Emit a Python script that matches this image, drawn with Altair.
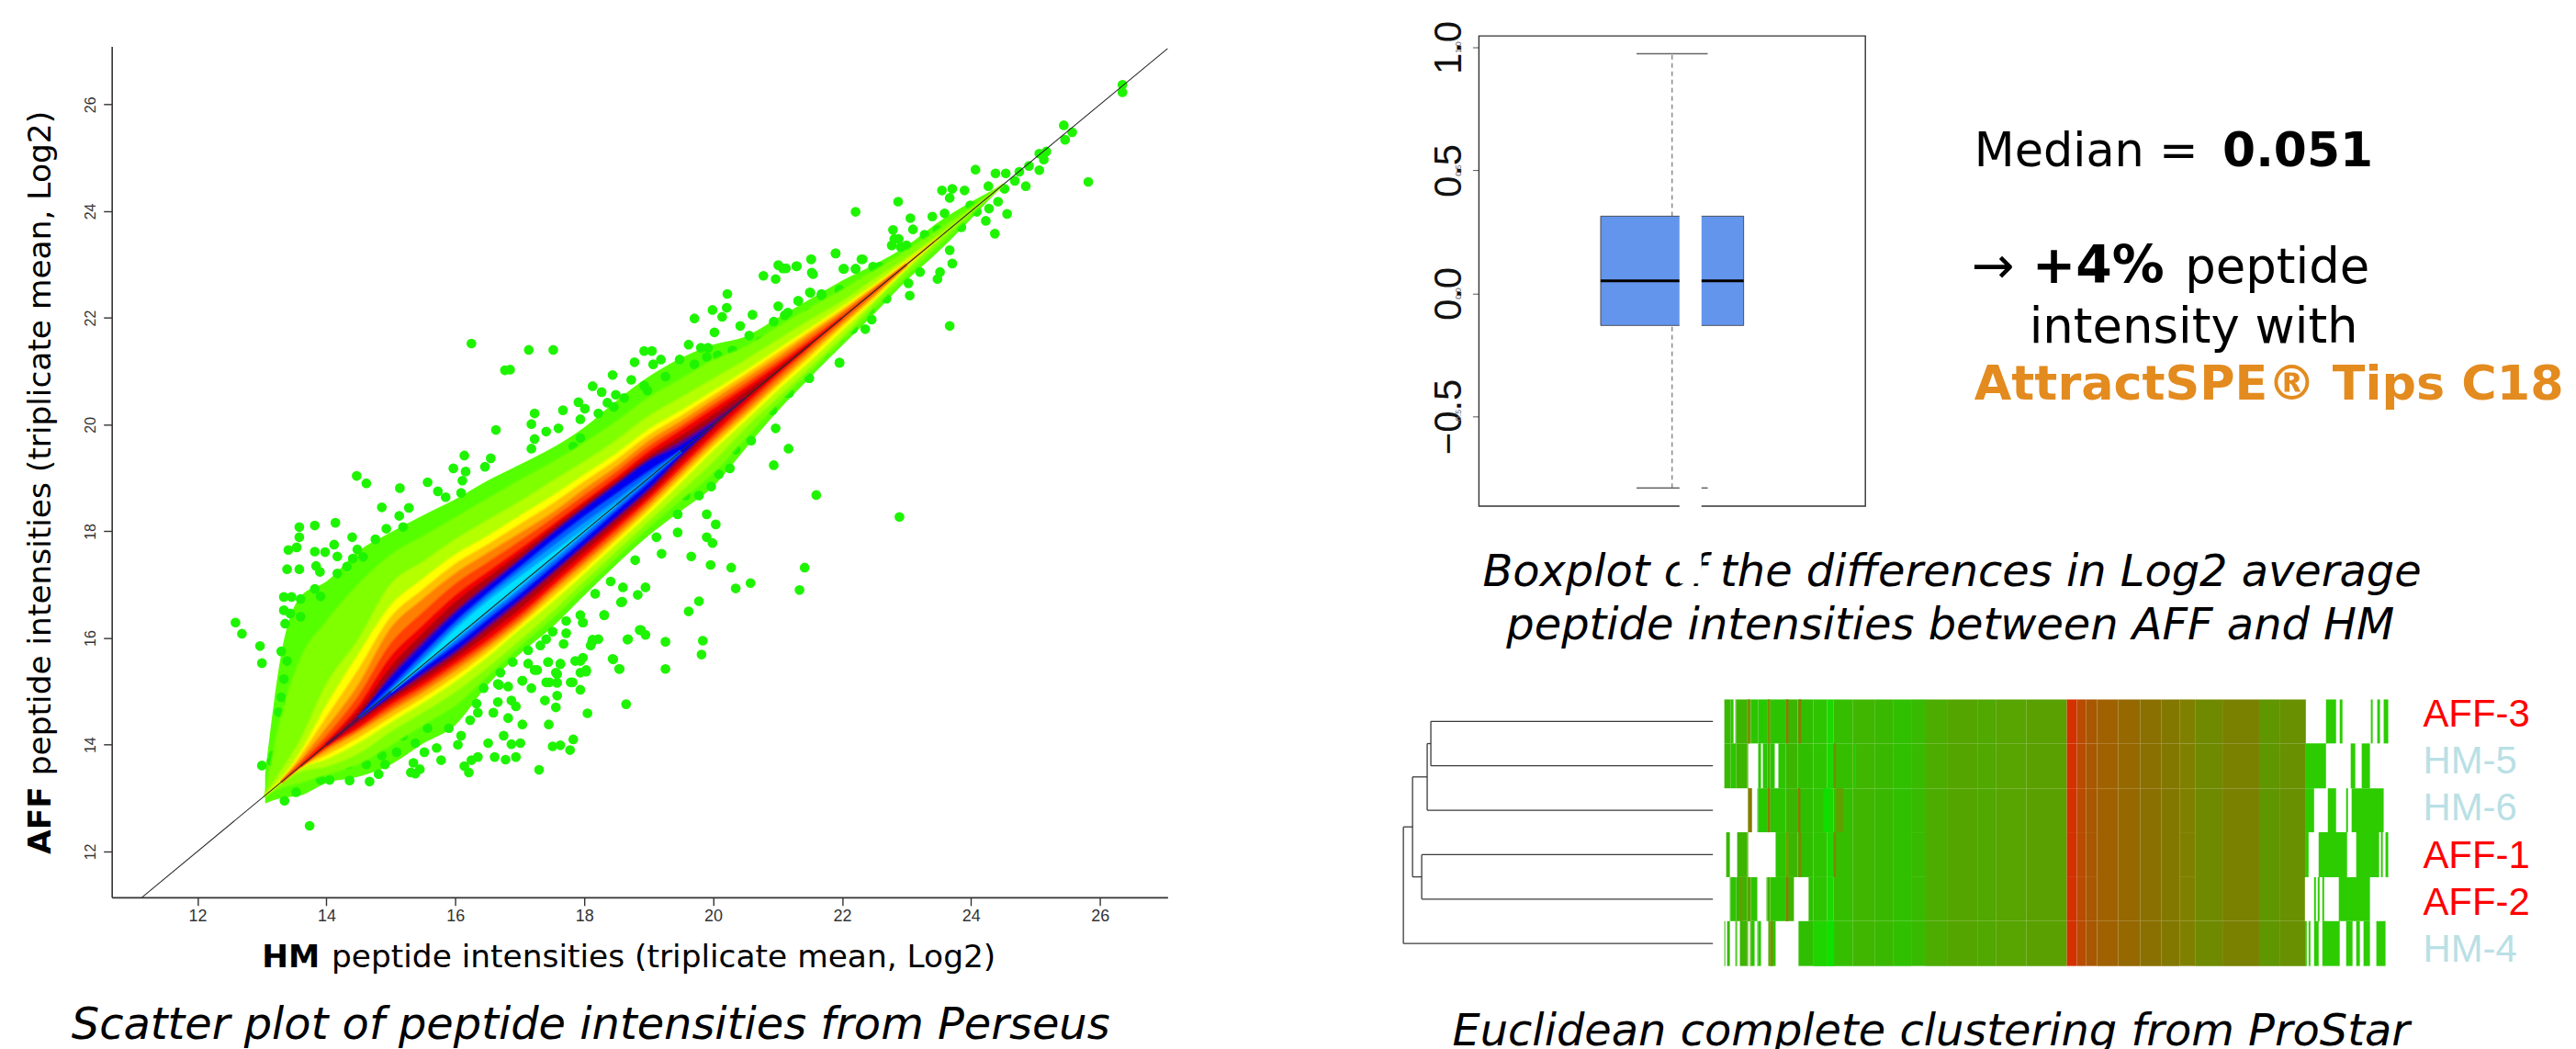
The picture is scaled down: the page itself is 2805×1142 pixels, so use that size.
import altair as alt
import pandas as pd

# ------------------------------ scatter values (Log2 intensities) ------------------------------
SCATTER_TICKS = [12, 14, 16, 18, 20, 22, 24, 26]
IDENTITY = [11.14, 27.05]

# Positions along HM at which the density contours were read
CONTOUR_HM = [13.05,13.3,13.6,14,14.5,15,15.5,16,16.5,17,17.5,18,18.5,19,19.5,20,20.5,21,21.5,22,22.5,23,23.5,24.5]
# Height of each density contour above the diagonal, outermost first
CONTOUR_UP = [
 [.4,2.4,3.18,3.06,3.13,2.98,2.8,2.6,2.45,2.25,2.06,1.95,1.95,1.9,1.75,1.5,1.15,1.0,.85,.7,.5,.35,.3,0],
 [0,1.2,2.0,2.3,2.5,2.55,2.4,2.25,2.1,1.95,1.78,1.65,1.55,1.5,1.35,1.2,.95,.82,.68,.52,.38,.25,.15,0],
 [0,.2,.49,1.12,1.47,2.0,1.92,1.84,1.7,1.55,1.43,1.3,1.2,1.15,1.0,.85,.7,.58,.45,.3,.22,.12,.05,0],
 [0,.05,.26,.72,1.19,1.6,1.6,1.55,1.4,1.28,1.15,1.05,.95,.9,.75,.62,.5,.4,.3,.2,.12,.06,0,0],
 [0,0,.18,.5,.9,1.38,1.4,1.38,1.24,1.12,1.0,.92,.83,.79,.65,.54,.43,.33,.24,.15,.08,.03,0,0],
 [0,0,.1,.3,.61,1.17,1.22,1.2,1.08,.95,.83,.78,.7,.68,.55,.45,.35,.25,.18,.1,.05,0,0,0],
 [0,0,.05,.15,.4,.88,.97,1.0,.9,.8,.72,.66,.6,.58,.46,.36,.26,.17,.1,.05,.02,0,0,0],
 [0,0,0,.05,.21,.63,.72,.78,.72,.65,.6,.55,.5,.48,.38,.28,.18,.1,.04,0,0,0,0,0],
 [0,0,0,0,.12,.45,.58,.66,.62,.57,.54,.5,.44,.4,.28,.18,.1,.03,0,0,0,0,0,0],
 [0,0,0,0,.03,.3,.43,.5,.5,.47,.47,.44,.39,.34,.18,.07,0,0,0,0,0,0,0,0],
 [0,0,0,0,0,.23,.35,.44,.44,.43,.43,.4,.35,.3,.1,0,0,0,0,0,0,0,0,0],
 [0,0,0,0,0,.08,.2,.3,.33,.32,.31,.27,.2,.12,0,0,0,0,0,0,0,0,0,0],
 [0,0,0,0,0,0,.12,.22,.26,.24,.2,.15,.08,.03,0,0,0,0,0,0,0,0,0,0],
 [0,0,0,0,0,0,.05,.15,.18,.14,.08,.03,0,0,0,0,0,0,0,0,0,0,0,0],
]
# Depth of each density contour below the diagonal
CONTOUR_DOWN = [
 [.15,.3,.55,.72,1.1,1.37,1.48,1.63,1.38,1.3,1.3,1.2,1.12,1.08,1.12,1.16,.95,.75,.62,.52,.42,.3,.25,0],
 [0,.1,.3,.55,.85,1.0,1.12,1.25,1.2,1.15,1.13,1.05,.98,.92,.9,.9,.74,.6,.5,.42,.3,.2,.12,0],
 [0,0,.1,.4,.65,.74,.88,1.0,1.04,1.03,1.0,.92,.86,.8,.74,.68,.55,.48,.42,.34,.2,.1,.03,0],
 [0,0,.03,.26,.45,.57,.7,.8,.84,.82,.82,.78,.72,.66,.57,.47,.41,.34,.3,.22,.15,.05,0,0],
 [0,0,.02,.18,.35,.47,.6,.7,.75,.75,.72,.69,.64,.58,.48,.39,.33,.26,.21,.15,.1,.02,0,0],
 [0,0,0,.1,.25,.37,.5,.6,.66,.68,.63,.6,.56,.5,.4,.31,.26,.19,.13,.09,.06,0,0,0],
 [0,0,0,.05,.2,.3,.43,.52,.59,.61,.56,.53,.49,.43,.33,.24,.18,.11,.06,.03,.01,0,0,0],
 [0,0,0,.02,.16,.23,.36,.45,.52,.54,.5,.46,.42,.37,.27,.17,.1,.04,0,0,0,0,0,0],
 [0,0,0,0,.08,.16,.28,.37,.42,.44,.41,.37,.34,.3,.18,.08,.02,0,0,0,0,0,0,0],
 [0,0,0,0,.02,.1,.19,.28,.3,.31,.29,.27,.25,.22,.1,.02,0,0,0,0,0,0,0,0],
 [0,0,0,0,0,.06,.13,.22,.23,.25,.24,.22,.2,.17,.06,0,0,0,0,0,0,0,0,0],
 [0,0,0,0,0,.01,.06,.12,.14,.16,.15,.13,.1,.07,0,0,0,0,0,0,0,0,0,0],
 [0,0,0,0,0,0,.02,.05,.06,.08,.07,.05,.03,.01,0,0,0,0,0,0,0,0,0,0],
 [0,0,0,0,0,0,0,0,.01,.02,0,0,0,0,0,0,0,0,0,0,0,0,0,0],
]
CONTOUR_COLORS = ["#56ff00","#80ff00","#b4ff00","#ffff00","#ffc000","#ff8000","#ff4000",
                  "#f00000","#b00010","#600090","#0000f0","#0060ff","#00a0ff","#00e0ff"]

OUTLIERS_LOW = [
 (14.47,19.04),(14.62,18.90),(15.14,18.81),(15.57,18.92),(15.97,19.18),(16.16,19.12),(16.11,18.95),(15.73,18.75),
 (15.85,18.64),(16.09,18.72),(14.86,18.45),(15.28,18.44),(15.13,18.29),(14.93,18.05),(15.19,18.08),(13.58,18.08),
 (13.82,18.11),(14.14,18.16),(14.40,17.89),(14.76,17.85),(13.58,17.89),(13.41,17.65),(13.54,17.70),(14.12,17.75),
 (13.82,17.62),(13.98,17.61),(14.17,17.53),(14.48,17.66),(14.57,17.52),(14.41,17.49),(13.39,17.29),(13.58,17.29),
 (13.84,17.35),(13.90,17.24),(14.17,17.21),(14.32,17.34),(13.34,16.77),(13.46,16.77),(13.60,16.73),(13.82,16.92),
 (13.91,16.78),(13.34,16.52),(13.44,16.46),(13.60,16.40),(12.59,16.29),(12.69,16.08),(13.36,16.27),(12.97,15.85),
 (13.30,15.75),(13.00,15.53),(13.39,15.57),(13.34,15.23),(13.30,14.89),(13.26,14.61),(13.39,14.49),(13.41,14.77),
 (13.30,13.97),(13.18,13.80),(13.00,13.61),(13.15,13.69),(13.37,13.77),(13.37,13.48),(13.15,13.24),(13.35,12.95),
 (13.53,13.11),(13.74,12.48),(13.91,13.34),(14.05,13.34),(14.36,13.33),(14.67,13.31),(14.81,13.45),(14.91,13.63),
 (14.62,13.63),(14.34,13.63),(14.86,13.80),(15.09,13.86),(15.38,13.46),(15.31,13.48),(15.45,13.54),(15.35,13.66),
 (15.78,13.71),(16.14,13.60),(16.21,13.48),(16.25,13.71),(16.35,13.77),(16.61,13.77),(16.78,13.72),(16.94,13.77),
 (17.30,13.53),(16.51,14.03),(16.75,14.17),(16.87,14.01),(17.01,14.03),(17.51,13.97),(17.63,13.99),(17.78,13.90),
 (17.83,14.10),(17.45,14.38),(17.04,14.38),(16.82,14.50),(16.23,14.46),(16.04,14.00),(16.09,14.17),(15.52,13.86),
 (15.71,13.94),(15.90,14.31),(15.57,14.31),(15.38,14.03),(15.19,14.17),(16.59,14.60),(16.94,14.72),(16.66,14.80),
 (16.35,14.60),(16.33,14.77),(16.87,14.83),(16.44,15.06),(16.68,15.12),(16.82,15.09),(17.04,15.20),(17.18,15.06),
 (17.41,15.17),(17.58,15.16),(17.39,14.83),(17.58,14.92),(17.56,14.70),(17.82,15.17),(17.94,15.03),(18.05,14.59),
 (18.65,14.76),(16.70,15.35),(16.89,15.55),(17.13,15.52),(17.27,15.40),(17.44,15.55),(17.63,15.51),(17.58,15.32),
 (17.86,15.57),(17.98,15.63),(18.03,15.40),(17.94,15.35),(18.45,15.60),(18.55,15.42),(17.13,15.77),(17.32,15.86),
 (17.51,16.12),(17.72,16.09),(17.41,15.98),(17.68,15.89),(18.12,15.92),(18.22,15.98),(17.94,16.43),(18.31,16.43),
 (17.98,16.29),(18.68,15.98),(18.59,16.68),(18.86,16.15),(18.60,16.95),(18.79,17.46),(18.41,17.06),(18.17,16.83),
]
OUTLIERS_MID = [
 (16.25,21.52),(17.14,21.40),(17.52,21.40),(16.77,21.02),(16.85,21.03),(16.63,19.90),(17.23,20.21),(17.18,20.01),
 (16.14,19.42),(16.55,19.37),(16.46,19.21),(17.67,20.27),(17.91,20.42),(18.13,20.72),(18.27,20.61),(18.49,20.56),
 (18.36,20.41),(18.46,20.33),(18.62,20.50),(18.01,20.30),(18.22,20.21),(17.94,20.10),(17.41,19.87),(17.60,19.93),
 (17.23,19.73),(17.94,19.75),(17.83,19.59),(17.18,19.55),(18.44,20.93),(18.78,21.17),(18.73,20.84),(18.93,20.73),
 (18.98,20.64),(19.07,21.13),(19.26,20.90),(18.93,21.38),(19.05,21.38),(19.19,21.22),(19.48,21.22),(19.62,21.50),
 (19.81,21.44),(19.92,21.44),(19.71,21.13),(19.90,21.27),(20.07,21.30),(20.30,21.39),(20.42,21.85),(20.02,21.73),
 (19.71,21.99),(19.99,22.15),(20.21,22.19),(20.14,22.02),(20.22,22.45),(20.61,22.06),(20.78,22.79),(20.97,22.73),
 (21.01,22.99),(21.13,22.93),(21.29,22.97),(21.52,23.10),(21.90,23.21),(21.53,22.85),(22.03,22.92),(22.21,22.92),
 (22.32,23.10),(21.51,22.47),(21.32,22.32),(21.01,22.22),(20.94,21.93),(20.56,21.67),(20.73,21.56),(20.97,21.64),
 (21.16,22.10),(21.68,22.42),(21.96,22.50),(22.81,23.48),(22.91,23.33),(21.17,19.55),(20.94,19.24),(21.60,18.68),
 (22.89,18.27),(21.42,17.32),(21.34,16.90),(20.58,17.03),(20.35,16.93),(20.28,17.32),(19.96,17.37),(19.66,17.53),
 (19.20,17.58),(19.78,16.69),(19.62,16.50),(18.88,16.15),(18.95,16.06),(18.67,15.97),(19.26,15.93),(19.84,15.95),
 (19.82,15.69),(19.26,15.42),(18.44,15.61),(18.54,15.42),(18.13,15.97),(18.10,15.86),(19.90,17.89),(19.99,17.78),
 (20.04,18.13),(19.90,18.32),(19.45,17.98),(19.12,17.89),(18.83,16.81),(18.95,16.95),(18.57,16.67),(18.31,16.43),
 (17.72,16.32),(17.98,16.29),(17.44,15.55),(17.63,15.52),(17.94,15.57),(18.03,15.37),(17.56,15.35),(17.23,15.40),
 (17.46,15.17),(17.79,15.17),(17.04,15.20),(16.66,15.14),(21.96,21.16),(21.49,20.87),(21.70,21.33),(21.18,20.59),
 (20.92,20.27),(20.97,19.93),(20.59,19.70),(20.35,19.53),(20.14,19.58),(20.26,19.18),(20.09,19.07),(19.97,18.84),
 (19.78,18.67),(19.57,18.67),(19.45,18.32),(18.98,18.32),
]
OUTLIERS_HIGH = [
 (26.35,26.37),(26.35,26.23),(25.44,25.61),(25.57,25.48),(25.46,25.34),(25.17,25.12),(25.06,25.08),(25.13,24.97),
 (24.07,24.78),(25.82,24.55),(25.06,24.77),(24.90,24.85),(24.75,24.74),(24.54,24.71),(24.38,24.71),(24.27,24.47),
 (23.90,24.39),(23.71,24.42),(23.55,24.39),(23.67,24.25),(24.85,24.47),(24.68,24.57),(24.52,24.42),(22.87,24.18),
 (22.21,23.99),(24.56,23.95),(24.42,24.18),(24.23,23.82),(24.37,23.58),(23.59,23.96),(23.40,23.90),(23.06,23.87),
 (22.79,23.65),(23.10,23.66),(22.88,23.48),(22.77,23.36),(23.00,23.36),(23.28,23.56),(23.67,23.27),(23.71,23.02),
 (23.52,22.86),(23.48,22.73),(23.03,22.65),(23.05,22.42),(23.67,21.85),(23.21,22.86),(21.90,23.21),(21.52,23.10),
 (22.30,23.10),(21.30,22.97),(21.08,22.93),(21.55,22.82),(22.02,22.92),(22.21,22.92),(22.48,22.96),(21.50,22.48),
 (21.32,22.32),(21.96,22.53),(21.68,22.45),(21.96,21.16),(21.72,21.34),(22.46,21.97),(22.36,21.79),(22.17,21.79),
 (21.96,21.62),(22.69,22.36),(21.49,20.87),(21.25,20.81),(21.13,20.59),(22.43,22.16),(21.72,22.16),(21.49,22.10),
 (21.11,22.05),(23.99,24.11),(24.09,23.99),(24.28,24.05),(23.48,23.65),(23.85,23.70),(22.58,22.96),(22.81,22.85),
 (22.43,22.56),
]

# ------------------------------ boxplot values ------------------------------
BOX_TICKS = [-0.5, 0.0, 0.5, 1.0]
BOX_Q1, BOX_MEDIAN, BOX_Q3 = -0.13, 0.051, 0.314
WHISKER_LOW, WHISKER_HIGH = -0.79, 0.974

# ------------------------------ heatmap values ------------------------------
SAMPLES = ["AFF-3", "HM-5", "HM-6", "AFF-1", "AFF-2", "HM-4"]
SAMPLE_COLORS = ["#ff0000", "#b9e0e5", "#b9e0e5", "#ff0000", "#ff0000", "#b9e0e5"]
COLUMN_EDGES = [0,7,13,25,29,37,47,50,67,80,97,112,119,140,164,184,204,220,244,277,297,330,
                374,385,395,407,430,454,477,497,514,544,584,607,635,725]
COLUMN_COLORS = ["#38b800","#2cc400","#3cb400","#55a500","#2cc400","#28c800","#48ad00","#2cc400",
                 "#3cb500","#30be00","#2ec400","#1cd800","#35be00","#40b600","#3ab800","#30c000",
                 "#38ba00","#4cac00","#55a500","#50a800","#58a400","#5aa000","#d43000","#b84c00",
                 "#a85800","#a06200","#956800","#8a7000","#827800","#808000","#6f8a00","#7a8000",
                 "#609600","#689000","#2ccc00"]
ROW_CELLS = [
 [(0,10),(12,635),(657,668),(672,675),(706,707.5),(713,716),(720,725)],
 [(0,26),(37,40),(42,55),(59,657),(684,689),(696,705)],
 [(26,30),(36,644),(659,668),(679,681),(685,720)],
 [(2,6),(14,26),(56,638),(649,680),(690,715),(717,719),(722,725)],
 [(6,36),(46,76),(92,634),(644,646),(648,650),(653,655),(671,705)],
 [(0,1),(3,6),(12,14),(17,26),(28,33),(36,40),(48,56),(81,636),(638,640),(644,649),(653,672),
  (679,686),(690,694),(698,705),(712,722)],
]
ROW_STRIPES = [
 [(25,28,"#7a9000"),(47,50,"#7a8f00"),(67,70,"#8a7a00"),(81,84,"#8a7a00")],
 [(119,122,"#6f9000"),(142,144,"#25d000")],
 [(26,30,"#8a7a00"),(47,50,"#8a7a00"),(80,83,"#8a7a00"),(108,115,"#10dd00"),(122,130,"#60a000")],
 [(119,122,"#7a8a00"),(67,70,"#6fa000"),(81,84,"#7a8a00")],
 [(67,70,"#8a7a00"),(17,20,"#60a000"),(26,28,"#60a000")],
 [(112,120,"#0fe000"),(97,112,"#20d400"),(50,53,"#7a9000")],
]
# Dendrogram segments: merge height from, merge height to, row from, row to
DENDRO = [
 (0,30.8,.5,.5),(0,30.8,1.5,1.5),(0,31.2,2.5,2.5),(0,31.8,3.5,3.5),(0,31.8,4.5,4.5),(0,33.8,5.5,5.5),
 (30.8,30.8,.5,1.5),(30.8,31.2,1,1),(31.2,31.2,1,2.5),(31.2,32.8,1.75,1.75),
 (31.8,31.8,3.5,4.5),(31.8,32.8,4,4),(32.8,32.8,1.75,4),(32.8,33.8,2.875,2.875),(33.8,33.8,2.875,5.5),
]

# ------------------------------ scales ------------------------------
W, H = 2797, 1134
SX = alt.Scale(domain=[10.67, 27.05], range=[114, 1267], nice=False, zero=False)
SY = alt.Scale(domain=[11.14, 27.09], range=[970, 41], nice=False, zero=False)
BX = alt.Scale(domain=[0.5, 1.5], range=[1607, 2029], nice=False, zero=False)
BY = alt.Scale(domain=[-0.864, 1.046], range=[543, 29.6], nice=False, zero=False)
HX = alt.Scale(domain=[0, 725], range=[1875, 2600], nice=False, zero=False, round=True)
HY = alt.Scale(domain=[0, 6], range=[753.7, 1044.7], nice=False, zero=False, round=True)
DX = alt.Scale(domain=[0, 34], range=[1862.5, 1522.5], nice=False, zero=False)
DY = alt.Scale(domain=[0, 6], range=[753.7, 1044.7], nice=False, zero=False)
LY = alt.Scale(domain=[0, 5], range=[784, 1040], nice=False, zero=False)

layers = []

# ---- scatter ----
def contour_layer(i):
    n = len(CONTOUR_HM)
    width = [CONTOUR_UP[i][k] + CONTOUR_DOWN[i][k] for k in range(n)]
    keep = [k for k in range(n)
            if width[k] > 0 or (k > 0 and width[k - 1] > 0) or (k < n - 1 and width[k + 1] > 0)]
    df = pd.DataFrame({"hm": [CONTOUR_HM[k] for k in keep],
                       "top": [CONTOUR_HM[k] + CONTOUR_UP[i][k] for k in keep],
                       "bottom": [CONTOUR_HM[k] - CONTOUR_DOWN[i][k] for k in keep]})
    kw = {} if i == 0 else {"stroke": CONTOUR_COLORS[i], "strokeWidth": 3.5, "strokeOpacity": 0.45}
    return alt.Chart(df).mark_area(color=CONTOUR_COLORS[i], interpolate="monotone", clip=False, **kw).encode(
        x=alt.X("hm:Q", scale=SX, axis=None),
        y=alt.Y("top:Q", scale=SY, axis=None),
        y2="bottom:Q")

layers.append(contour_layer(0))
pts = pd.DataFrame(OUTLIERS_LOW + OUTLIERS_MID + OUTLIERS_HIGH, columns=["hm", "aff"])
layers.append(alt.Chart(pts).mark_circle(size=115, color="#1ff400", opacity=1).encode(
    x=alt.X("hm:Q", scale=SX, axis=None), y=alt.Y("aff:Q", scale=SY, axis=None)))
layers += [contour_layer(i) for i in range(1, len(CONTOUR_COLORS))]

line_df = pd.DataFrame({"hm": IDENTITY, "aff": IDENTITY})
layers.append(alt.Chart(line_df).mark_line(color="#2a2a2a", strokeWidth=1.1).encode(
    x=alt.X("hm:Q", scale=SX,
            axis=alt.Axis(orient="bottom", offset=-(H - 970), values=SCATTER_TICKS, grid=False, title=None,
                          labelFont="Liberation Sans", labelFontSize=18, labelColor="#333333", labelPadding=3,
                          tickSize=9, tickColor="#333333", tickWidth=1.4, domainColor="#333333", domainWidth=1.6,
                          labelFlush=False, labelOverlap=False)),
    y=alt.Y("aff:Q", scale=SY,
            axis=alt.Axis(orient="left", offset=-114, values=SCATTER_TICKS, grid=False, title=None,
                          labelFont="Liberation Sans", labelFontSize=16, labelColor="#333333", labelPadding=14,
                          labelAngle=270, labelAlign="center", labelBaseline="middle",
                          tickSize=9, tickColor="#333333", tickWidth=1.4, domainColor="#333333", domainWidth=1.6,
                          labelFlush=False, labelOverlap=False))))

# ---- text helper (page coordinates minus the 8px margin) ----
def label(text, x, y, size, color="#000000", weight="normal", style="normal", font="DejaVu Sans",
          angle=None, align="left"):
    kw = dict(text=text, fontSize=size, color=color, fontWeight=weight, fontStyle=style, font=font,
              align=align, baseline="alphabetic")
    if angle is not None:
        kw["angle"] = angle
    return alt.Chart(pd.DataFrame({"a": [0]})).mark_text(**kw).encode(x=alt.value(x - 8), y=alt.value(y - 8))

layers += [
    label("HM", 286, 1054, 34.5, weight="bold"),
    label("peptide intensities (triplicate mean, Log2)", 362, 1054, 34.5),
    label("AFF", 55, 931, 34.5, weight="bold", angle=270),
    label("peptide intensities (triplicate mean, Log2)", 55, 845, 34.5, angle=270),
    label("Scatter plot of peptide intensities from Perseus", 78, 1133, 48, style="italic"),
]

# ---- boxplot ----
bx = alt.X("l:Q", scale=BX, axis=None)
by = alt.Y("b:Q", scale=BY, axis=None)
frame = pd.DataFrame({"l": [0.5], "r": [1.5], "b": [-0.864], "t": [1.046]})
layers.append(alt.Chart(frame).mark_rect(fillOpacity=0, stroke="#333333", strokeWidth=1.4).encode(
    x=bx, x2="r:Q", y=by, y2="t:Q"))
whisk = pd.DataFrame({"l": [1.0, 1.0], "b": [WHISKER_LOW, BOX_Q3], "t": [BOX_Q1, WHISKER_HIGH]})
layers.append(alt.Chart(whisk).mark_rule(color="#555555", strokeWidth=1, strokeDash=[5, 4]).encode(
    x=bx, y=by, y2="t:Q"))
caps = pd.DataFrame({"l": [0.908, 0.908], "r": [1.092, 1.092], "b": [WHISKER_LOW, WHISKER_HIGH]})
layers.append(alt.Chart(caps).mark_rule(color="#666666", strokeWidth=1.6).encode(x=bx, x2="r:Q", y=by))
box = pd.DataFrame({"l": [0.815], "r": [1.185], "b": [BOX_Q1], "t": [BOX_Q3]})
layers.append(alt.Chart(box).mark_rect(fill="#6495ed", stroke="#333333", strokeWidth=0.8).encode(
    x=bx, x2="r:Q", y=by, y2="t:Q"))
med = pd.DataFrame({"l": [0.815], "r": [1.185], "b": [BOX_MEDIAN]})
layers.append(alt.Chart(med).mark_rule(color="#000000", strokeWidth=3).encode(x=bx, x2="r:Q", y=by))
ticks_df = pd.DataFrame({"l": [0.5] * 4, "b": BOX_TICKS, "s": ["-0.5", "0.0", "0.5", "1.0"]})
layers.append(alt.Chart(ticks_df).mark_point(opacity=0).encode(
    x=alt.X("l:Q", scale=BX, axis=None),
    y=alt.Y("b:Q", scale=BY,
            axis=alt.Axis(orient="left", offset=-1607, values=BOX_TICKS, grid=False, title=None, domain=False,
                          format=".1f", labelFont="Liberation Sans", labelFontSize=42, labelColor="#111111",
                          labelPadding=26, labelAngle=270, labelAlign="center", labelBaseline="middle",
                          tickSize=7, tickColor="#555555", labelFlush=False, labelOverlap=False))))
layers.append(alt.Chart(ticks_df).mark_text(font="Liberation Sans", fontSize=9, color="#666666", angle=270,
                                            baseline="middle").encode(
    x=alt.value(1593 - 8), y=alt.Y("b:Q", scale=BY, axis=None), text="s:N"))

layers += [
    label("Boxplot of the differences in Log2 average", 1619, 638, 48, style="italic"),
    label("peptide intensities between AFF and HM", 1645, 696, 48, style="italic"),
    label("Median = ", 2156, 180, 51),
    label("0.051", 2427, 180, 52, weight="bold"),
    label("\u2192", 2153, 307, 56),
    label("+4%", 2219, 307, 57, weight="bold"),
    label("peptide", 2386, 307, 53),
    label("intensity with", 2216, 372, 53),
    label("AttractSPE\u00ae Tips C18", 2156, 435, 52.5, color="#e38b1f", weight="bold"),
]
# White strip that interrupts the box and the caption in the source figure
strip = pd.DataFrame({"l": [1.019], "r": [1.076], "b": [-1.178], "t": [0.323]})
layers.append(alt.Chart(strip).mark_rect(fill="#ffffff").encode(x=bx, x2="r:Q", y=by, y2="t:Q"))

# ---- heatmap ----
cells = []
for r, row in enumerate(ROW_CELLS):
    for a, b in row:
        for k, color in enumerate(COLUMN_COLORS):
            lo, hi = max(a, COLUMN_EDGES[k]), min(b, COLUMN_EDGES[k + 1])
            if hi > lo:
                cells.append({"c0": lo, "c1": hi, "r0": r, "r1": r + 1, "fill": color})
    for a, b, color in ROW_STRIPES[r]:
        cells.append({"c0": a, "c1": b, "r0": r, "r1": r + 1, "fill": color})
layers.append(alt.Chart(pd.DataFrame(cells)).mark_rect(strokeWidth=0).encode(
    x=alt.X("c0:Q", scale=HX, axis=None), x2="c1:Q",
    y=alt.Y("r0:Q", scale=HY, axis=None), y2="r1:Q",
    color=alt.Color("fill:N", scale=None, legend=None)))
dend = pd.DataFrame(DENDRO, columns=["h0", "h1", "r0", "r1"])
layers.append(alt.Chart(dend).mark_rule(color="#3a3a3a", strokeWidth=1.3).encode(
    x=alt.X("h0:Q", scale=DX, axis=None), x2="h1:Q",
    y=alt.Y("r0:Q", scale=DY, axis=None), y2="r1:Q"))
samples = pd.DataFrame({"s": SAMPLES, "pos": range(6), "col": SAMPLE_COLORS})
layers.append(alt.Chart(samples).mark_text(font="Liberation Sans", fontSize=42, align="left",
                                           baseline="alphabetic").encode(
    x=alt.value(2646 - 8), y=alt.Y("pos:Q", scale=LY, axis=None), text="s:N",
    color=alt.Color("col:N", scale=None, legend=None)))
layers.append(label("Euclidean complete clustering from ProStar", 1586, 1140, 48, style="italic"))

chart = alt.layer(*layers).resolve_scale(x="independent", y="independent").properties(
    width=W, height=H, padding=0, autosize=alt.AutoSizeParams(type="none")
).configure_view(stroke=None)

chart.save("out.html", embed_options={"renderer": "svg", "actions": False})
